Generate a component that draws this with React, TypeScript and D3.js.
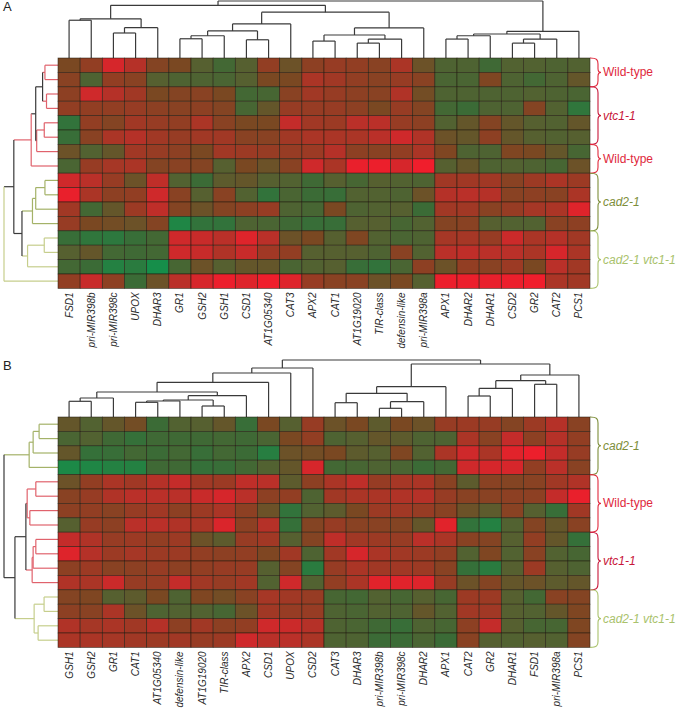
import React from "react";
import * as d3 from "d3";

type Node = number | [Node, Node, number];

// gene order on the columns of each panel
const genesA = [
  "FSD1", "pri-MIR398b", "pri-MIR398c", "UPOX", "DHAR3", "GR1", "GSH2", "GSH1",
  "CSD1", "AT1G05340", "CAT3", "APX2", "CAT1", "AT1G19020", "TIR-class",
  "defensin-like", "pri-MIR398a", "APX1", "DHAR2", "DHAR1", "CSD2", "GR2", "CAT2", "PCS1",
];
const genesB = [
  "GSH1", "GSH2", "GR1", "CAT1", "AT1G05340", "defensin-like", "AT1G19020",
  "TIR-class", "APX2", "CSD1", "UPOX", "CSD2", "CAT3", "DHAR3", "pri-MIR398b",
  "pri-MIR398c", "DHAR2", "APX1", "CAT2", "GR2", "DHAR1", "FSD1", "pri-MIR398a", "PCS1",
];

// row genotypes (top to bottom) and how many rows each block has
const groupsA = ["Wild-type", "vtc1-1", "Wild-type", "cad2-1", "cad2-1 vtc1-1"];
const groupSizesA = [2, 4, 2, 4, 4];
const groupsB = ["cad2-1", "Wild-type", "vtc1-1", "cad2-1 vtc1-1"];
const groupSizesB = [4, 4, 4, 4];

// log ratios (green < 0 < red)
const valuesA = [
  [0, 0.5, 2, 1.2, 0.2, 0, -0.5, -1, -0.5, 0.5, -0.2, 0.4, 0.6, 0.5, 0.3, 1.0, -0.2, -0.7, -0.7, -1.1, -0.6, -0.6, -0.7, -0.6],
  [0.3, -0.7, 0.5, 0.3, -0.5, -0.7, -0.7, -0.8, -0.5, 0, 0, 1.0, 0.8, 0.5, 0.3, 0.6, 0.3, -0.8, -0.8, 0.1, -0.7, -1.0, -0.7, -0.3],
  [0.4, 1.8, 1.2, 0.8, 0, 0.2, 0.3, 0, -1, -0.9, 0.3, 0.8, 0.6, 0.4, 0.3, 1.1, -0.1, -0.7, -0.7, -0.7, -0.7, -0.6, -0.7, -0.8],
  [0.5, 0.5, 0.5, 0.6, 0.4, 0.3, 0.4, 0.2, -0.9, -0.3, 0.6, 0.6, 0.6, 0.4, 0, 0.6, 0.2, -1.0, -1.2, -0.7, -0.7, 0.2, -0.6, -1.6],
  [-1.5, 0.5, 0.2, 0.8, 0.6, 0.5, 1.0, 0.3, 0, 0, 1.5, 0.8, 0.7, 1.3, 1.3, 0.6, 0.4, -0.6, -0.3, 0.2, -0.3, -0.5, -0.6, -0.3],
  [-1.3, 0.3, 1.0, 1.2, 0.8, 0.6, 0.8, 0.8, 0.3, 0.3, 0.8, 1.0, 1.0, 1.0, 1.3, 1.8, 1.1, -0.2, -0.3, 0.4, -0.3, -0.5, -0.6, -0.5],
  [-0.2, -0.6, -0.3, 0.8, 0.6, 0.4, 0, 0.8, 0.7, 0.6, 0.6, 0.7, 1.2, 0.4, 0.3, 0.5, 1.0, 0.1, -0.7, -0.7, 0.1, 0, -0.3, -0.9],
  [-0.8, 0.6, 0.9, 1.0, 0.2, 0.3, 0.2, -0.5, 0, -0.2, 0.3, 1.8, 1.0, 2.5, 2.6, 2.0, 2.7, -0.5, -0.3, -0.7, -0.6, -0.7, -0.9, -0.2],
  [1.8, 1.3, 0.6, -0.2, 1.4, -0.6, -1.2, -0.4, -0.3, -0.5, -0.6, -1.1, -0.5, -0.9, -0.5, -0.6, -0.7, 0.8, 0.8, 0.8, 0.3, 0.7, 1.0, 0.7],
  [2.5, 1.0, 0.4, 0.5, 1.8, 0.3, -0.5, 0.3, -0.6, -1.5, -0.8, -1.2, -1.3, -0.6, -0.6, -0.7, -0.2, 1.2, 1.3, 1.2, 0.3, 0.4, 0.3, 1.0],
  [0.8, -1.0, -0.3, 0.7, 1.4, 0.2, -0.2, 0.2, 0.4, 0.6, -0.7, -0.9, 0, -0.7, -0.6, -0.5, -1.2, 0.8, 0.8, 0.3, 0.6, 0.9, 1.0, 2.2],
  [0.6, 0, -0.1, -0.2, 0.2, -2.2, -1.5, -1.5, -0.7, -0.8, -1.1, -1.3, -1.3, -0.5, -0.5, -0.9, -0.6, 0.2, 0.3, -0.5, -0.6, -0.6, 0.3, 0.4],
  [-1.3, -1.6, -1.7, -1.3, -1.0, 1.8, 1.6, 1.3, 2.2, 1.3, -0.2, 0, -0.5, 0.1, -0.6, -0.8, -0.7, 0.9, 0.9, 0.6, 1.7, 1.0, 1.2, 0.8],
  [-0.5, -0.3, -1.0, -1.1, -1.0, 1.8, 1.6, 1.1, 1.6, 0.8, 0.5, -0.5, -0.5, -0.5, -0.7, 0.3, -0.6, 1.3, 1.4, 1.3, 1.3, 1.0, 2.0, 1.0],
  [-1.0, -1.2, -2.0, -1.8, -2.5, -0.9, -0.2, -0.5, -0.3, -0.3, -0.8, -0.6, -0.5, -1.3, -1.5, -0.8, 0.4, -0.2, 0.5, 0.3, 0.7, 0, 1.3, 0.8],
  [0.5, 1.6, 0.4, -1.2, -0.2, 1.3, 2.0, 2.6, 2.2, 2.7, 2.2, 0.6, 0.3, 0.3, -0.2, 0, -0.5, 2.6, 2.6, 2.5, 2.6, 2.7, 1.0, 0.8],
];
const valuesB = [
  [-0.3, -0.6, -0.3, -0.1, -1.2, -0.6, -0.5, -0.3, -1.3, 0, -0.5, 0.6, -0.2, 0, -0.4, 0, -0.2, 0.6, 0.7, 0.6, 0.2, 0.7, 1.2, 0.3],
  [-0.8, -0.6, -1.1, -1.4, -1.1, -1.1, -1.1, -1.0, -1.1, -0.8, 0, 0.5, -0.7, -0.5, -0.3, -0.4, -0.7, -0.7, 1.0, 0.3, 1.5, 0.4, 1.2, 0.5],
  [-0.3, -1.4, -1.3, -1.0, -1.2, -1.0, -1.3, -1.0, -1.2, -1.9, -0.2, -0.1, 0, -0.4, -0.5, 0.1, -0.6, 1.0, 1.8, 1.0, 2.3, 2.6, 1.5, 0.6],
  [-2.3, -2.2, -2.0, -2.0, -1.1, -1.1, -1.4, -1.3, -1.0, -0.6, -0.3, 2.0, -1.0, -0.9, -0.7, -0.8, -1.2, -1.0, 1.8, 2.0, 2.0, 0.5, 1.3, 0.3],
  [-0.2, 0.5, 1.0, 0.8, 1.2, 1.5, 0.8, 0.7, 1.4, 1.3, -0.4, 0.4, 1.0, 1.4, 0.6, 0.9, 1.0, 0.3, -0.4, 0.3, 0.2, 0.3, 0.8, 1.1],
  [0.3, 0.6, 1.1, 1.3, 1.3, 1.3, 1.6, 2.0, 1.3, 0.4, 0.5, -0.7, 0.8, 1.0, 1.0, 1.1, 1.2, 0.6, 0.3, 0.3, 0.4, 0.4, 1.5, 2.5],
  [0.4, 0.5, 0.3, 0.6, 0.8, 0.4, 0.7, 1.0, 0.4, -0.2, -1.5, -0.6, -0.4, 0, 0.7, 0.8, 0.6, 0.3, -0.2, -0.4, 0.3, -0.5, -1.3, 0.8],
  [-0.5, 0.6, 0.4, 1.3, 1.3, 1.1, 1.0, 2.1, 0.4, 1.2, -1.4, 0.2, 0.6, 0.3, 0.3, 0.2, -0.3, 2.3, -1.5, -2.0, -0.6, 0.2, -0.3, 0.3],
  [1.5, 1.1, 0.6, 0.7, 0.5, 0.7, -0.2, -0.4, 0.6, 0.8, -0.5, 0.2, 1.4, 0.8, 0.7, 0.6, 1.3, 1.0, 0.3, 0.2, -0.5, 0.5, -0.3, -1.4],
  [2.2, 1.2, 0.7, 0.9, 0.7, 0.7, 0.5, 0.4, 0.5, 0.1, 0.8, -0.7, 0.8, 2.0, 1.0, 0.8, 0.7, 0.5, -0.6, 0.1, -0.6, 0.3, -0.6, -0.9],
  [0.4, 0.7, 0.3, 0.4, 0.6, 0.4, 0.5, 0.6, 0.6, -0.5, 0.2, -1.8, 0.6, 1.0, 0.8, 0.8, 0.7, 0.3, -1.4, -1.8, -0.5, 0.7, -0.5, -0.7],
  [1.1, 1.0, 1.7, 0.6, 0.6, 1.5, 0.8, 0.6, 0.8, -0.6, 1.8, -0.6, 0.5, 1.0, 2.3, 2.3, 2.2, 0.6, -0.2, 0.2, -0.3, -0.2, -0.4, -0.3],
  [0.2, 0.1, -0.5, -0.4, 0, -0.7, 0.1, -0.1, 0.3, 0.9, 0.8, 0.6, -0.9, -1.0, -0.6, -0.9, -0.5, -0.9, 0.7, 0.7, -0.5, -1.0, 0.3, 0.2],
  [0.4, 0.3, 1.0, -0.2, -0.7, -0.6, -0.6, -0.9, -0.2, 0.8, 0.6, 0.6, -0.7, -0.8, -0.6, -0.7, -0.3, -0.6, 0.8, 0.8, -0.5, -0.6, -0.3, 0.1],
  [1.1, 0.9, 1.0, 0.8, 1.2, 0.4, 0.8, 0.4, 0.5, 1.8, 1.7, 1.2, -0.7, -0.8, -1.1, -1.3, -0.7, -0.9, 0.4, 1.5, -0.5, -0.9, -0.9, 0.1],
  [1.0, 1.0, 0.9, 0.8, 0.7, 0.8, 0.6, 0.7, 1.8, 1.3, 1.3, 1.0, -0.7, -0.7, -1.2, -1.2, -0.8, -1.2, 0.3, -0.5, -0.6, -0.5, -0.6, 0.2],
];

// dendrograms: [left, right, merge height]
const colTreeA: Node = [
  [
    [[0, 1, 37.3], [[2, 3, 24.7], 4, 30], 38.7],
    [
      [[[[5, 6, 19], 7, 22], [8, 9, 18], 26.7], 10, 33.7],
      [[[11, 12, 16.7], [[13, 14, 14.7], 15, 18.7], 22.7], 16, 29.7],
      45.3,
    ],
    52,
  ],
  [[[[17, 18, 18.7], 19, 22], [[20, 21, 14.7], 22, 18.7], 23.7], 23, 26.3],
  56.3,
];
const rowTreeA: Node = [
  [
    [[[[0, 1, 13.3], [2, 3, 11.7], 15.7], [[4, 5, 14], 6, 21.7], 22.7], 7, 27.3],
    [[[[8, 9, 13.3], 10, 22.7], 11, 26], [[12, 13, 14], 14, 31], 36.7],
    45,
  ],
  15,
  55,
];
const colTreeB: Node = [
  [[[[[[0, 1, 15.7], 2, 19], [[[[3, 4, 14.7], 5, 16], [6, 7, 11], 17], 8, 21.3], 25], 9, 34.7], 10, 44], 11, 49],
  [
    [[[12, 13, 14.3], [[14, 15, 8.7], 16, 15.3], 23.7], 17, 30.3],
    [[[[18, 19, 21], 20, 28.7], [21, 22, 32.7], 36.3], 23, 42],
    53,
  ],
  57,
];
const rowTreeB: Node = [
  [[[0, 1, 19], 2, 25], 3, 29],
  [
    [[[4, 5, 22.3], [6, 7, 28.3], 31], [[[8, 9, 22.3], 10, 25], 11, 26], 32.3],
    [[12, 13, 14], [14, 15, 20], 24],
    43.3,
  ],
  54.3,
];

const labelColor: Record<string, string> = {
  "Wild-type": "#e0283c",
  "vtc1-1": "#c8163a",
  "cad2-1": "#7d8e3a",
  "cad2-1 vtc1-1": "#a9c26c",
};
const branchColor: Record<string, string> = {
  "Wild-type": "#e0626c",
  "vtc1-1": "#e0626c",
  "cad2-1": "#a4b268",
  "cad2-1 vtc1-1": "#c6ce8c",
  mix: "#3a3a3a",
};

const color = d3
  .scaleLinear<string>()
  .domain([-2.5, -1.2, -0.5, 0, 0.7, 1.5, 2.7])
  .range(["#168e4a", "#3b6b36", "#566030", "#7a4822", "#9c3a24", "#c42c2a", "#f01e2c"])
  .clamp(true);

type Seg = { p1: number; h1: number; p2: number; h2: number; k: string };

// a link takes its children's genotype; a single leaf joining a cluster keeps the leaf's colour
const walk = (node: Node, pos: (i: number) => number, key: (i: number) => string, segs: Seg[]) => {
  if (typeof node === "number") return { p: pos(node), h: 0, k: key(node) };
  const a = walk(node[0], pos, key, segs);
  const b = walk(node[1], pos, key, segs);
  const h = node[2];
  const k =
    a.k === b.k ? a.k : typeof node[1] === "number" ? b.k : typeof node[0] === "number" ? a.k : "mix";
  segs.push({ p1: a.p, h1: a.h, p2: a.p, h2: h, k: a.k });
  segs.push({ p1: b.p, h1: b.h, p2: b.p, h2: h, k: b.k });
  segs.push({ p1: a.p, h1: h, p2: b.p, h2: h, k });
  return { p: (a.p + b.p) / 2, h, k };
};

const brace = (x: number, y0: number, y1: number) => {
  const m = (y0 + y1) / 2;
  return `M${x},${y0} C${x + 7},${y0} ${x + 8},${y0 + 2} ${x + 8},${y0 + 6} L${x + 8},${m - 4} Q${x + 8},${m} ${x + 11},${m} Q${x + 8},${m} ${x + 8},${m + 4} L${x + 8},${y1 - 6} C${x + 8},${y1 - 2} ${x + 7},${y1} ${x},${y1}`;
};

const Panel = ({ letter, top, genes, values, colTree, rowTree, groups, sizes, colMax, rowMax }: any) => {
  const left = 58;
  const right = 590;
  const bottom = top + 230.4;
  const x = d3.scaleBand<number>().domain(d3.range(genes.length)).range([left, right]);
  const y = d3.scaleBand<number>().domain(d3.range(values.length)).range([top, bottom]);
  const rowGroup: string[] = groups.flatMap((g: string, i: number) => d3.range(sizes[i]).map(() => g));

  const colSegs: Seg[] = [];
  walk(colTree, (i) => x(i)! + x.bandwidth() / 2, () => "mix", colSegs);
  const hy = d3.scaleLinear([0, colMax], [top, top - 57]);

  const rowSegs: Seg[] = [];
  walk(rowTree, (i) => y(i)! + y.bandwidth() / 2, (i) => rowGroup[i], rowSegs);
  const hx = d3.scaleLinear([0, rowMax], [left, 4]);

  let acc = 0;
  const blocks = groups.map((g: string, i: number) => {
    const s = acc;
    acc += sizes[i];
    return { g, y0: y(s)!, y1: y(acc - 1)! + y.bandwidth() };
  });

  return (
    <g>
      <text x={3} y={top - 47} fontSize={13} fontFamily="Liberation Sans, Arial, sans-serif" fill="#222">
        {letter}
      </text>
      {colSegs.map((s, i) => (
        <line key={"c" + i} x1={s.p1} x2={s.p2} y1={hy(s.h1)} y2={hy(s.h2)} stroke="#3a3a3a" strokeWidth={1.2} />
      ))}
      {rowSegs.map((s, i) => (
        <line
          key={"r" + i}
          y1={s.p1}
          y2={s.p2}
          x1={hx(s.h1)}
          x2={hx(s.h2)}
          stroke={branchColor[s.k]}
          strokeWidth={1.2}
        />
      ))}
      {values.map((row: number[], r: number) =>
        row.map((v, c) => (
          <rect
            key={r + "-" + c}
            x={x(c)}
            y={y(r)}
            width={x.bandwidth()}
            height={y.bandwidth()}
            fill={color(v)}
            stroke="#231c10"
            strokeOpacity={0.75}
            strokeWidth={0.7}
          />
        ))
      )}
      {genes.map((g: string, i: number) => (
        <text
          key={g}
          transform={`translate(${x(i)! + x.bandwidth() / 2},${bottom + 4}) rotate(-90)`}
          textAnchor="end"
          dy="0.35em"
          fontSize={10}
          fontStyle="italic"
          fontFamily="Liberation Sans, Arial, sans-serif"
          fill="#2a2a2a"
        >
          {g}
        </text>
      ))}
      {blocks.map((b: any, i: number) => (
        <g key={"b" + i}>
          <path d={brace(right, b.y0, b.y1)} fill="none" stroke={labelColor[b.g]} strokeWidth={1.1} />
          <text
            x={603}
            y={(b.y0 + b.y1) / 2 + 4}
            fontSize={12}
            fontStyle={b.g === "Wild-type" ? "normal" : "italic"}
            fontFamily="Liberation Sans, Arial, sans-serif"
            fill={labelColor[b.g]}
          >
            {b.g}
          </text>
        </g>
      ))}
    </g>
  );
};

export default function App() {
  return (
    <svg width={682} height={723} style={{ position: "absolute", left: 0, top: 0, background: "#fff" }}>
      <Panel
        letter="A"
        top={58}
        genes={genesA}
        values={valuesA}
        colTree={colTreeA}
        rowTree={rowTreeA}
        groups={groupsA}
        sizes={groupSizesA}
        colMax={56.3}
        rowMax={55}
      />
      <Panel
        letter="B"
        top={417}
        genes={genesB}
        values={valuesB}
        colTree={colTreeB}
        rowTree={rowTreeB}
        groups={groupsB}
        sizes={groupSizesB}
        colMax={57}
        rowMax={54.3}
      />
    </svg>
  );
}
